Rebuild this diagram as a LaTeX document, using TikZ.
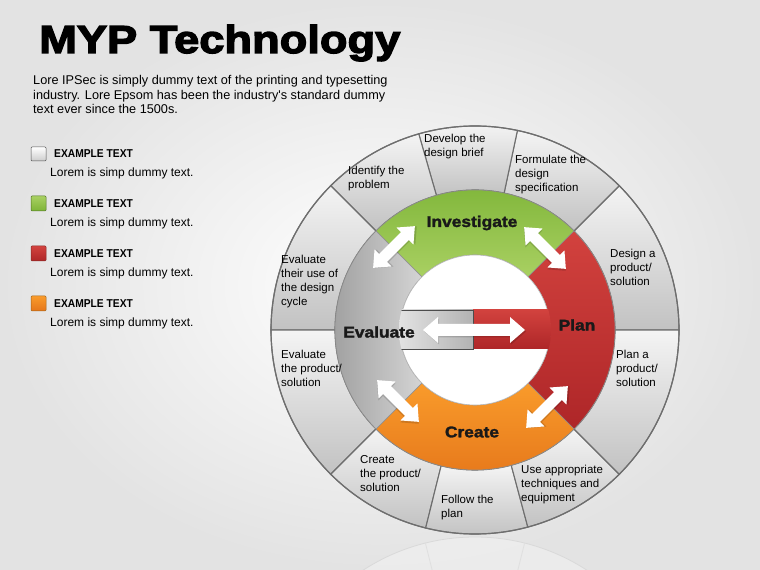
\documentclass[tikz,border=0pt]{standalone}
\usepackage{fontspec}
\setmainfont{Liberation Sans}
\newfontfamily\titlefont{Liberation Sans Bold}[FakeStretch=1.16,FakeBold=3.5]
\newfontfamily\ringfont{Liberation Sans Bold}[FakeStretch=1.12,FakeBold=2]
\newfontfamily\legfont{Liberation Sans Bold}[FakeStretch=0.9]
\usetikzlibrary{positioning}
\definecolor{mgreenA}{HTML}{7DB437}
\definecolor{mgreenB}{HTML}{A9D062}
\definecolor{mredA}{HTML}{D2423E}
\definecolor{mredB}{HTML}{AE2628}
\definecolor{morangeA}{HTML}{F99B2B}
\definecolor{morangeB}{HTML}{E5761A}
\definecolor{mgrayA}{HTML}{9A9A9A}
\definecolor{mgrayB}{HTML}{D4D4D4}
\definecolor{msegA}{HTML}{F4F4F4}
\definecolor{msegB}{HTML}{C2C2C2}
\definecolor{mline}{HTML}{6E6E6E}

\begin{document}
\begin{tikzpicture}[x=1pt, y=1pt,
  seglbl/.style={font=\fontsize{11.5}{14}\selectfont, align=left, anchor=north west, inner sep=0pt},
  ringlbl/.style={font=\ringfont\fontsize{15.5}{16}\selectfont, text=black!90},
  legtitle/.style={font=\legfont\fontsize{11.4}{12}\selectfont, anchor=base west, inner sep=0pt},
  legtext/.style={font=\fontsize{12}{14}\selectfont, anchor=base west, inner sep=0pt},
  legbox/.style={draw=#1!65!black, line width=0.5pt, rounded corners=1pt},
  outerseg/.style={top color=msegA, bottom color=msegB, draw=mline, line width=1.1pt},
  ringseg/.style={draw=black!45, line width=0.6pt},
  pics/dblarr/.style n args={4}{code={
    \fill[black, opacity=0.15, shift={(1.2,-1.5)}] (-#1,0) -- (-#1+#2,#3) -- (-#1+#2,#4) -- (#1-#2,#4) -- (#1-#2,#3) -- (#1,0) -- (#1-#2,-#3) -- (#1-#2,-#4) -- (-#1+#2,-#4) -- (-#1+#2,-#3) -- cycle;
    \fill[white] (-#1,0) -- (-#1+#2,#3) -- (-#1+#2,#4) -- (#1-#2,#4) -- (#1-#2,#3) -- (#1,0) -- (#1-#2,-#3) -- (#1-#2,-#4) -- (-#1+#2,-#4) -- (-#1+#2,-#3) -- cycle;}}]
\useasboundingbox (0,0) rectangle (760,570);
\shade[inner color=white, outer color=gray!22] (0,0) rectangle (760,570);

% reflection under the wheel
\begin{scope}
\clip (0,0) rectangle (760,570);
\fill[white, opacity=0.3] (475,-172) circle[radius=205];
\draw[gray!30, line width=0.8pt] (475,-172) circle[radius=205];
\draw[gray!25, line width=0.8pt] (475,-172) ++(76:205) -- ++(256:60);
\draw[gray!25, line width=0.8pt] (475,-172) ++(104:205) -- ++(284:60);
\end{scope}

% title and intro
\node[font=\titlefont\fontsize{39}{42}\selectfont, anchor=base west, inner sep=0pt] (title) at (39,517) {MYP Technology};
\node[font=\fontsize{12.7}{14.5}\selectfont, align=left, anchor=north west, inner sep=0pt] (intro) at (33,494.5)
  {Lore IPSec is simply dummy text of the printing and typesetting\\industry. Lore Epsom has been the industry\textquotesingle s standard dummy\\text ever since the 1500s.};

% legend
\shade[legbox=gray, top color=white, bottom color=gray!40] (31,409) rectangle (46,423);
\node[legtitle] (legone) at (54,412.7) {EXAMPLE TEXT};
\node[legtext] (legonetxt) at (50,393.3) {Lorem is simp dummy text.};
\shade[legbox=mgreenA, top color=mgreenB, bottom color=mgreenA] (31,359) rectangle (46,374);
\node[legtitle] (legtwo) at (54,362.7) {EXAMPLE TEXT};
\node[legtext] (legtwotxt) at (50,343.3) {Lorem is simp dummy text.};
\shade[legbox=mredA, top color=mredA, bottom color=mredB] (31,309) rectangle (46,324);
\node[legtitle] (legthree) at (54,312.7) {EXAMPLE TEXT};
\node[legtext] (legthreetxt) at (50,293.3) {Lorem is simp dummy text.};
\shade[legbox=morangeA, top color=morangeA, bottom color=morangeB] (31,259) rectangle (46,274);
\node[legtitle] (legfour) at (54,262.7) {EXAMPLE TEXT};
\node[legtext] (legfourtxt) at (50,243.3) {Lorem is simp dummy text.};

% outer ring of steps
\begin{scope}[shift={(475,240)}]
\foreach \a/\b in {0/45, 45/78, 78/106, 106/135, 135/180, 180/225, 225/256, 256/285, 285/315, 315/360}
  \shade[outerseg] (\a:140) arc[start angle=\a, end angle=\b, radius=140] -- (\b:204) arc[start angle=\b, end angle=\a, radius=204] -- cycle;
\draw[mline, line width=1.2pt] (0,0) circle[radius=204];

% coloured phase ring
\shade[ringseg, top color=mgreenA, bottom color=mgreenB] (45:75) arc[start angle=45, end angle=135, radius=75] -- (135:140) arc[start angle=135, end angle=45, radius=140] -- cycle;
\shade[ringseg, top color=mredA, bottom color=mredB] (-45:75) arc[start angle=-45, end angle=45, radius=75] -- (45:140) arc[start angle=45, end angle=-45, radius=140] -- cycle;
\shade[ringseg, top color=morangeA, bottom color=morangeB] (225:75) arc[start angle=225, end angle=315, radius=75] -- (315:140) arc[start angle=315, end angle=225, radius=140] -- cycle;
\shade[ringseg, left color=mgrayA, right color=mgrayB] (135:75) arc[start angle=135, end angle=225, radius=75] -- (225:140) arc[start angle=225, end angle=135, radius=140] -- cycle;
\fill[white, draw=gray!55, line width=0.6pt] (0,0) circle[radius=75];

% centre bar
\begin{scope}
\clip (0,0) circle[radius=76];
\shade[left color=gray!22, right color=gray!60, draw=gray!60!black, line width=0.6pt] (-77,-19) rectangle (-2,20);
\shade[top color=mredA, bottom color=mredB] (-2,-19) rectangle (78,20);
\draw[gray!60!black, line width=0.6pt] (-2,-19) -- (-2,20);
\end{scope}
\end{scope}

% arrows
\pic (arrmid) at (474,240) {dblarr={51}{15}{13}{6}};
\pic[rotate=45] (arrtl) at (394,323) {dblarr={29.5}{14}{12}{5.5}};
\pic[rotate=-45] (arrtr) at (545,322) {dblarr={29.5}{14}{12}{5.5}};
\pic[rotate=-45] (arrbl) at (398,169) {dblarr={29.5}{14}{12}{5.5}};
\pic[rotate=45] (arrbr) at (547,163) {dblarr={29.5}{14}{12}{5.5}};

% phase labels
\node[ringlbl] (investigate) at (472,347) {Investigate};
\node[ringlbl] (plan) at (577,245) {Plan};
\node[ringlbl] (create) at (472,138) {Create};
\node[ringlbl] (evaluate) at (379,238) {Evaluate};

% step labels
\node[seglbl] (identify) at (348,404) {Identify the\\problem};
\node[seglbl] (develop) at (424,436) {Develop the\\design brief};
\node[seglbl] (formulate) at (515,415) {Formulate the\\design\\specification};
\node[seglbl] (designsol) at (610,321) {Design a\\product/\\solution};
\node[seglbl] (evalcycle) at (281,315) {Evaluate\\their use of\\the design\\cycle};
\node[seglbl] (evalprod) at (281,220) {Evaluate\\the product/\\solution};
\node[seglbl] (plansol) at (616,220) {Plan a\\product/\\solution};
\node[seglbl] (createsol) at (360,115) {Create\\the product/\\solution};
\node[seglbl] (followplan) at (441,75) {Follow the\\plan};
\node[seglbl] (usetech) at (521,105) {Use appropriate\\techniques and\\equipment};
\end{tikzpicture}
\end{document}
